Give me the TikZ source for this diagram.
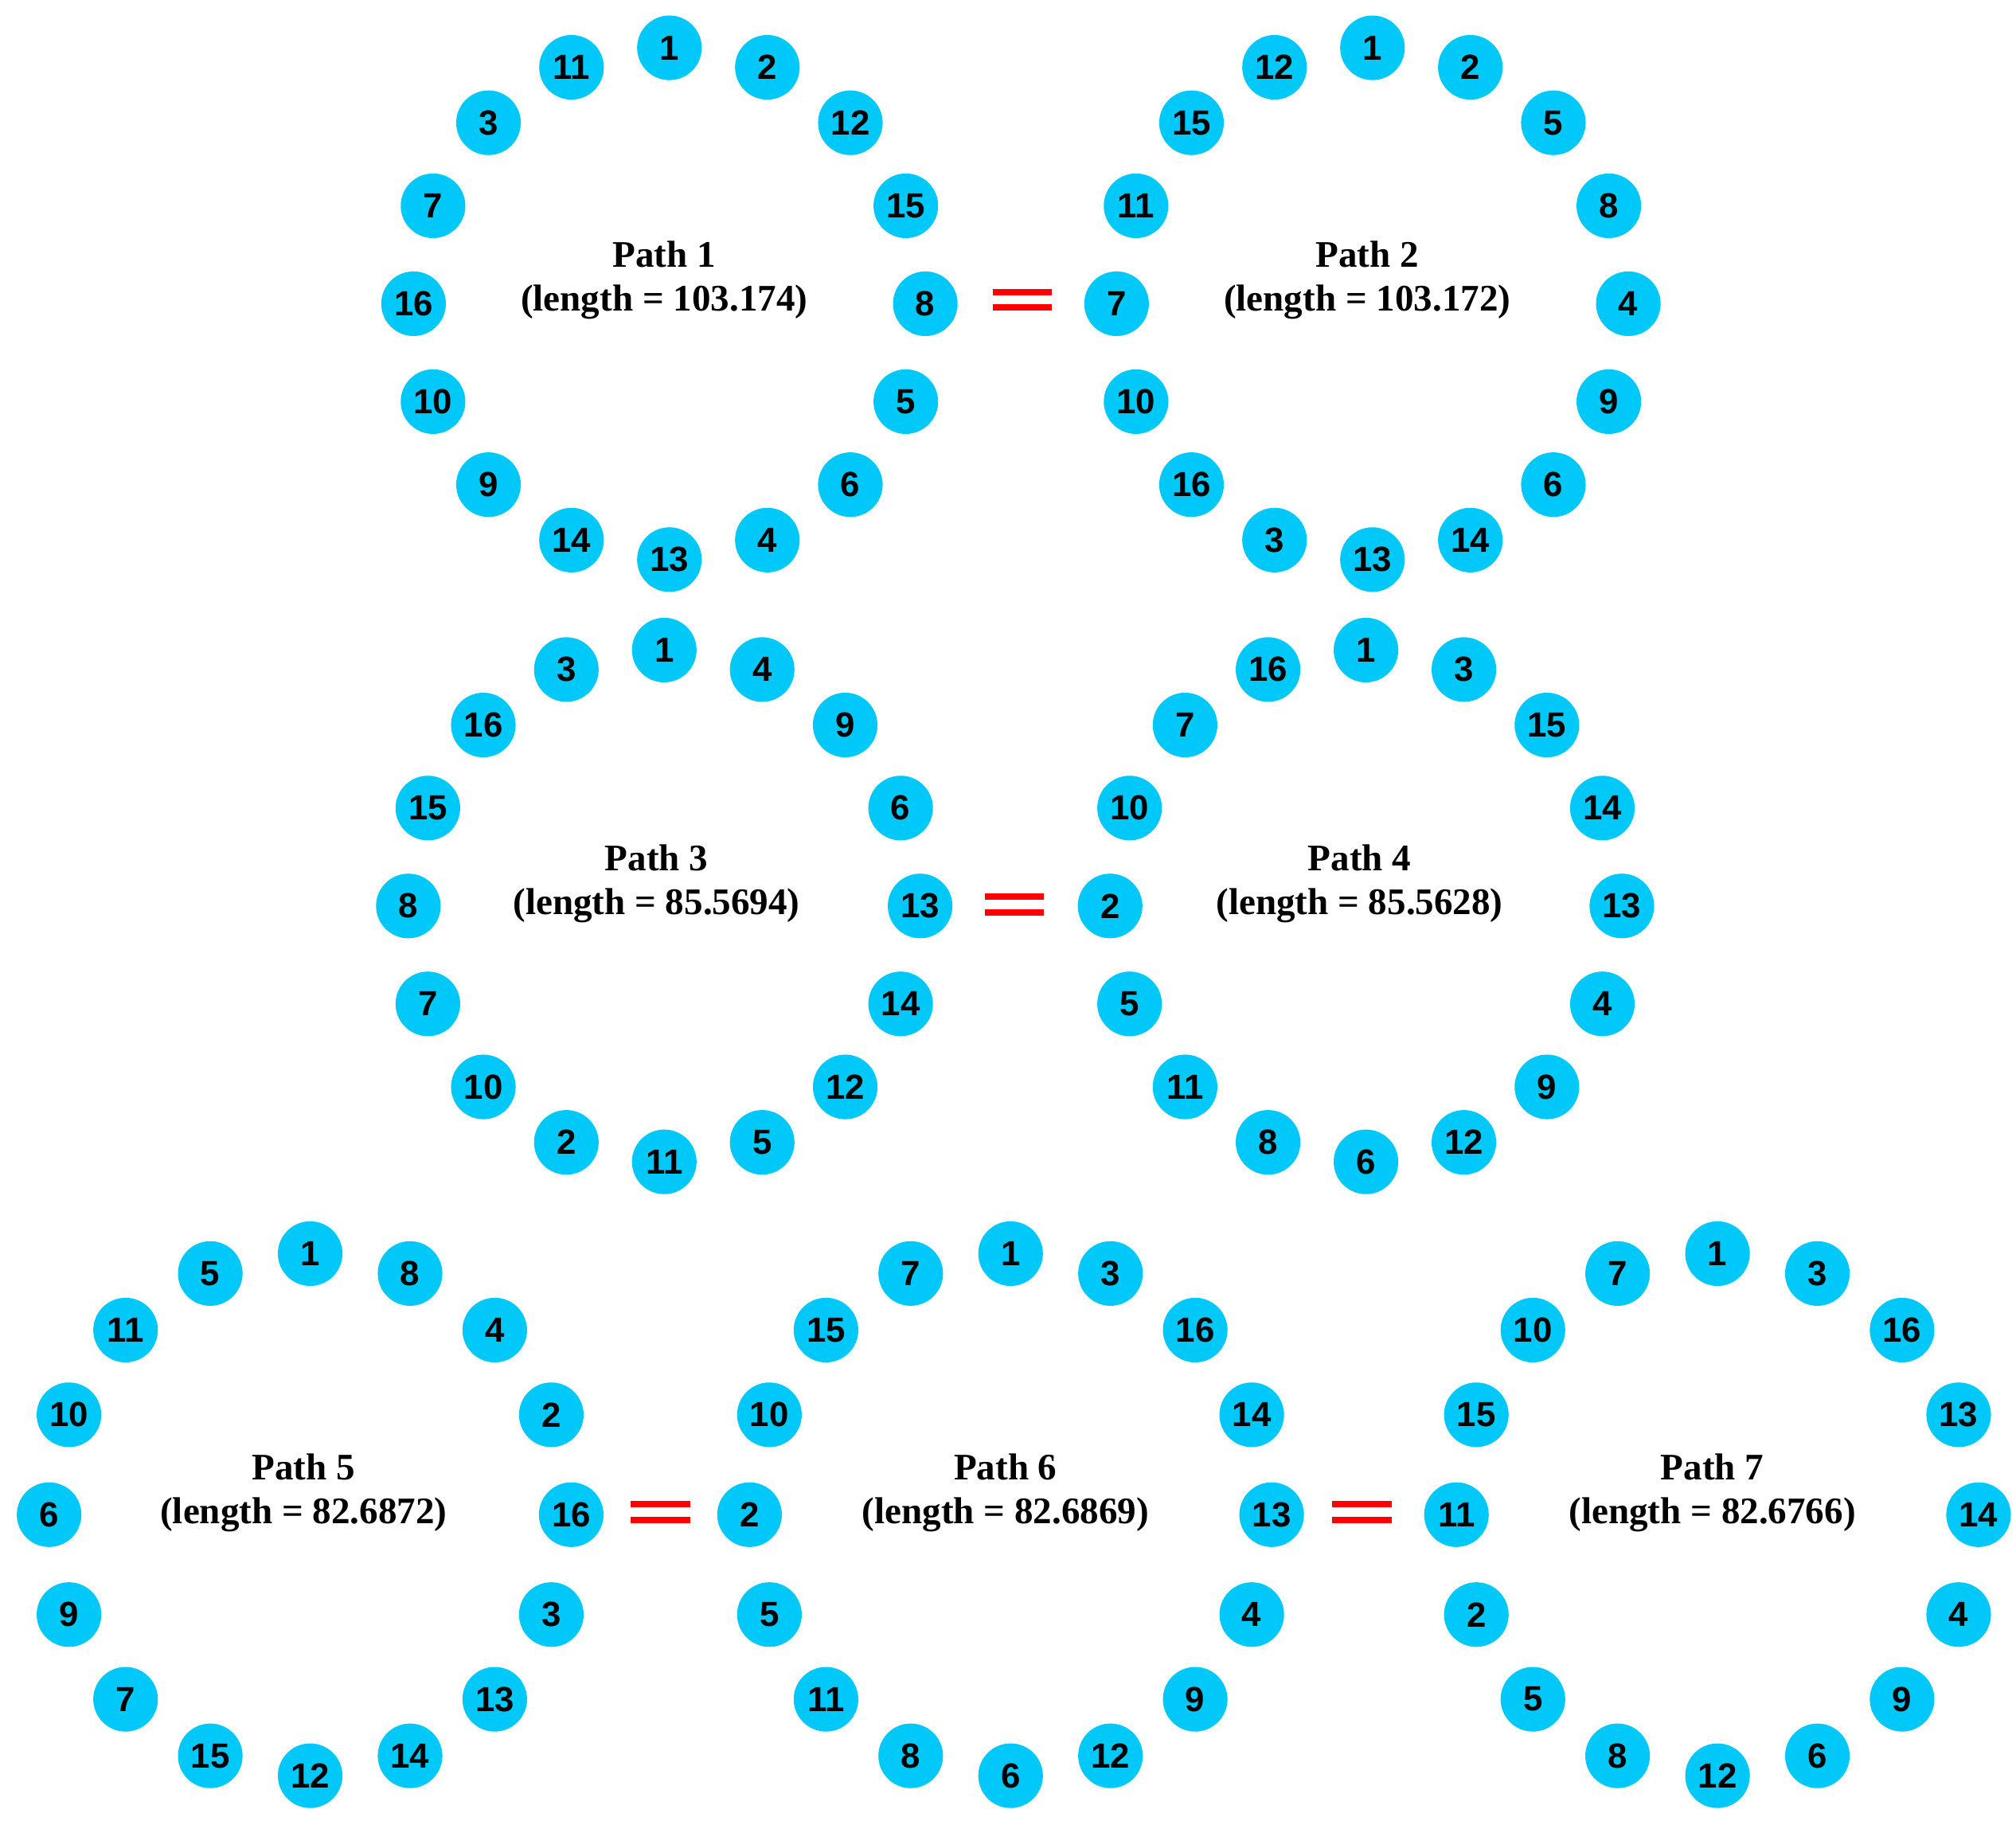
\documentclass[tikz,border=0pt]{standalone}
\usepackage{fontspec}
\setmainfont{Liberation Serif}
\newfontfamily\numfont{Liberation Sans}
\definecolor{cy}{HTML}{00C8F8}
\tikzset{dot/.style={circle,fill=cy,minimum size=50pt,inner sep=0pt,font=\numfont\bfseries\fontsize{27}{27}\selectfont},
lab/.style={align=center,font=\bfseries\fontsize{29}{34}\selectfont},
eqbar/.style={red,line width=5pt}}
\begin{document}
\begin{tikzpicture}[x=1pt,y=-1pt]
\useasboundingbox (0,0) rectangle (1560,1409);
\newcommand{\ring}[5]{%
 \foreach \v [count=\k from 0] in {#4} {
   \node[dot] (#5-\k) at ({#1+#3*cos(90-\k*22.5)},{#2-#3*sin(90-\k*22.5)}) {\v};
 }}
\ring{518}{235}{198}{1,2,12,15,8,5,6,4,13,14,9,10,16,7,3,11}{a}
\ring{1062}{235}{198}{1,2,5,8,4,9,6,14,13,3,16,10,7,11,15,12}{b}
\ring{514}{701}{198}{1,4,9,6,13,14,12,5,11,2,10,7,8,15,16,3}{c}
\ring{1057}{701}{198}{1,3,15,14,13,4,9,12,6,8,11,5,2,10,7,16}{d}
\ring{240}{1172}{202}{1,8,4,2,16,3,13,14,12,15,7,9,6,10,11,5}{e}
\ring{782}{1172}{202}{1,3,16,14,13,4,9,12,6,8,11,5,2,10,15,7}{f}
\ring{1329}{1172}{202}{1,3,16,13,14,4,9,6,12,8,5,2,11,15,10,7}{g}
\node[lab] (la) at (514,217) {Path 1\\(length = 103.174)};
\node[lab] (lb) at (1058,217) {Path 2\\(length = 103.172)};
\node[lab] (lc) at (508,684) {Path 3\\(length = 85.5694)};
\node[lab] (ld) at (1052,684) {Path 4\\(length = 85.5628)};
\node[lab] (le) at (235,1155) {Path 5\\(length = 82.6872)};
\node[lab] (lf) at (778,1155) {Path 6\\(length = 82.6869)};
\node[lab] (lg) at (1325,1155) {Path 7\\(length = 82.6766)};
\foreach \x/\y in {791/232,785/700,511/1170,1054/1170}{
  \draw[eqbar] (\x-23,\y-6) -- (\x+23,\y-6);
  \draw[eqbar] (\x-23,\y+6) -- (\x+23,\y+6);
}
\end{tikzpicture}
\end{document}
